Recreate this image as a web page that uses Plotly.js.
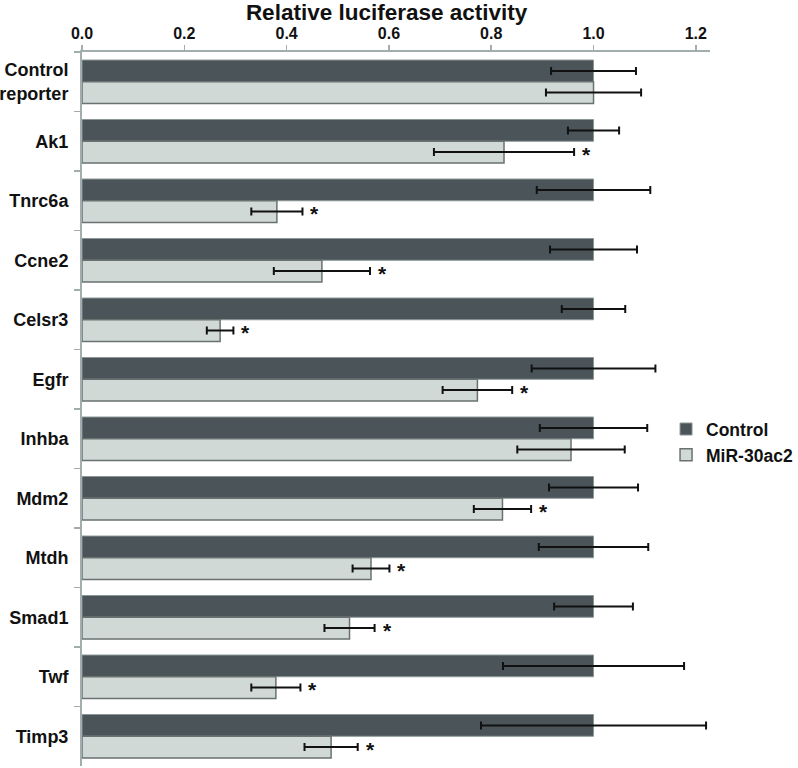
<!DOCTYPE html>
<html>
<head>
<meta charset="utf-8">
<script src="https://cdn.plot.ly/plotly-3.0.1.min.js"></script>
<style>html,body{margin:0;padding:0;background:#fff;}#chart{width:798px;height:768px;}</style>
</head>
<body>
<div id="chart"></div>
<script>
const categories = ["Control<br>reporter","Ak1","Tnrc6a","Ccne2","Celsr3","Egfr","Inhba","Mdm2","Mtdh","Smad1","Twf","Timp3"];
const controlValues = [1,1,1,1,1,1,1,1,1,1,1,1];
const controlErrors = [0.083,0.05,0.111,0.085,0.062,0.121,0.105,0.087,0.107,0.077,0.177,0.22];
const mirValues = [1.0,0.825,0.381,0.469,0.270,0.773,0.956,0.822,0.565,0.523,0.379,0.487];
const mirErrors = [0.093,0.137,0.05,0.094,0.026,0.068,0.105,0.056,0.036,0.049,0.048,0.052];
const significant = [false,true,true,true,true,true,false,true,true,true,true,true];
const xTicks = [0,0.2,0.4,0.6,0.8,1.0,1.2];
const xTickLabels = ["0.0","0.2","0.4","0.6","0.8","1.0","1.2"];

const errStyle = {type:'data', visible:true, color:'#111', thickness:2, width:4};

const traces = [
  {type:'bar', orientation:'h', name:'Control', y:categories, x:controlValues,
   error_x:Object.assign({array:controlErrors}, errStyle),
   marker:{color:'#4a5459', line:{color:'#8c9696', width:1}}},
  {type:'bar', orientation:'h', name:'MiR-30ac2', y:categories, x:mirValues,
   error_x:Object.assign({array:mirErrors}, errStyle),
   marker:{color:'#d1d9d7', line:{color:'#6a7271', width:1.5}}}
];

const annotations = [];
categories.forEach((c,i)=>{
  if(significant[i]){
    annotations.push({x:mirValues[i]+mirErrors[i], y:c, xref:'x', yref:'y', text:'*',
      showarrow:false, xanchor:'left', xshift:6, yshift:-13,
      font:{family:'Liberation Sans, Arial, sans-serif', size:21, color:'#111', weight:'bold'}});
  }
});

const layout = {
  width:798, height:768,
  margin:{l:82, r:88, t:52, b:2, autoexpand:false},
  paper_bgcolor:'#fff', plot_bgcolor:'#fff',
  barmode:'group', bargap:0.27, bargroupgap:0,
  font:{family:'Liberation Sans, Arial, sans-serif', color:'#111'},
  title:{text:'Relative luciferase activity', x:0.485, xanchor:'center', xref:'paper',
    y:1.0, yref:'container', yanchor:'top', pad:{t:4},
    font:{size:22.5, color:'#111', weight:'bold'}},
  showlegend:true,
  legend:{x:0.93, y:0.497, xanchor:'left', yanchor:'top', bgcolor:'rgba(0,0,0,0)',
    font:{size:17.5, color:'#111', weight:'bold'}, tracegroupgap:0, itemwidth:30},
  xaxis:{side:'top', range:[0,1.2277], tickvals:xTicks, ticktext:xTickLabels,
    showgrid:false, zeroline:false, showline:true, linecolor:'#a2aeae', linewidth:2,
    ticks:'outside', ticklen:5, tickwidth:1.5, tickcolor:'#a2aeae',
    tickfont:{size:16, color:'#111', weight:'bold'}, automargin:false},
  yaxis:{type:'category', autorange:'reversed', showgrid:false, zeroline:false,
    showline:true, linecolor:'#a2aeae', linewidth:2, automargin:false,
    ticks:'outside', tickson:'boundaries', ticklen:6, tickwidth:1.5, tickcolor:'#a2aeae',
    ticklabelstandoff:8,
    tickfont:{size:18, color:'#111', weight:'bold'}},
  annotations:annotations
};

Plotly.newPlot('chart', traces, layout, {displayModeBar:false, staticPlot:true});
</script>
</body>
</html>
